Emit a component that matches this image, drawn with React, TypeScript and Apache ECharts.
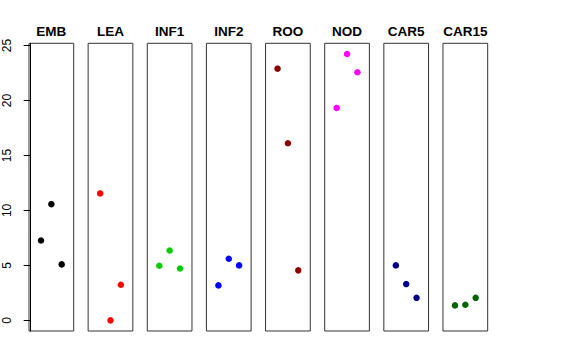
import React, { useEffect, useRef } from "react";
import * as echarts from "echarts";

const groups = ["EMB", "LEA", "INF1", "INF2", "ROO", "NOD", "CAR5", "CAR15"];
const colors = ["#000000", "#FF0000", "#00CD00", "#0000FF", "#8B0000", "#FF00FF", "#00008B", "#006400"];
const values: number[][] = [
  [7.27, 10.57, 5.09],
  [11.55, 0.0, 3.24],
  [4.97, 6.36, 4.72],
  [3.18, 5.6, 5.0],
  [22.9, 16.12, 4.55],
  [19.33, 24.24, 22.57],
  [5.0, 3.3, 2.05],
  [1.36, 1.42, 2.05],
];
const yTicks = [0, 5, 10, 15, 20, 25];

export default function App() {
  const ref = useRef<HTMLDivElement>(null);
  useEffect(() => {
    if (!ref.current) return;
    const chart = echarts.init(ref.current, undefined, { renderer: "svg" });
    const all = values.flat();
    const dMin = Math.min(...all);
    const dMax = Math.max(...all);
    const r = dMax - dMin;
    const yMin = dMin - 0.04 * r;
    const yMax = dMax + 0.04 * r;
    const xMin = 0 - 0.04 * 4;
    const xMax = 4 + 0.04 * 4;

    const left0 = 29;
    const step = 59.14;
    const w = 44.7;
    const top = 43.3;
    const h = 287.7;

    const grids = groups.map((_, i) => ({
      left: left0 + i * step,
      top,
      width: w,
      height: h,
      show: true,
      borderColor: "#333",
      borderWidth: 1,
      backgroundColor: "transparent",
      containLabel: false,
      outerBoundsMode: "none",
    }));
    const xAxes = groups.map((_, i) => ({
      type: "value",
      gridIndex: i,
      min: xMin,
      max: xMax,
      show: false,
    }));
    const yAxes = groups.map((_, i) => ({
      type: "value",
      gridIndex: i,
      min: yMin,
      max: yMax,
      show: i === 0,
      axisLine: { show: true, lineStyle: { color: "#000", width: 1 } },
      axisTick: {
        show: true,
        length: 7,
        inside: false,
        customValues: yTicks,
        lineStyle: { color: "#000", width: 1 },
      },
      axisLabel: {
        show: true,
        customValues: yTicks,
        rotate: 90,
        margin: 16,
        color: "#000",
        fontSize: 12,
        fontFamily: "Liberation Sans, Arial, sans-serif",
      },
      splitLine: { show: false },
    }));
    const titles = groups.map((g, i) => ({
      text: g,
      left: left0 + i * step + w / 2,
      textAlign: "center",
      top: 24,
      padding: 0,
      textStyle: {
        fontSize: 13.5,
        fontWeight: "bold",
        color: "#000",
        fontFamily: "Liberation Sans, Arial, sans-serif",
      },
    }));
    const series = groups.map((g, i) => ({
      type: "scatter",
      name: g,
      xAxisIndex: i,
      yAxisIndex: i,
      symbol: "circle",
      symbolSize: 6.5,
      itemStyle: { color: colors[i], opacity: 1 },
      data: values[i].map((v, j) => [j + 1, v]),
    }));

    chart.setOption({
      animation: false,
      backgroundColor: "#fff",
      title: titles,
      grid: grids,
      xAxis: xAxes,
      yAxis: yAxes,
      series,
    });
    return () => chart.dispose();
  }, []);
  return (
    <div
      ref={ref}
      style={{ position: "absolute", left: 0, top: 0, width: 576, height: 360 }}
    />
  );
}
